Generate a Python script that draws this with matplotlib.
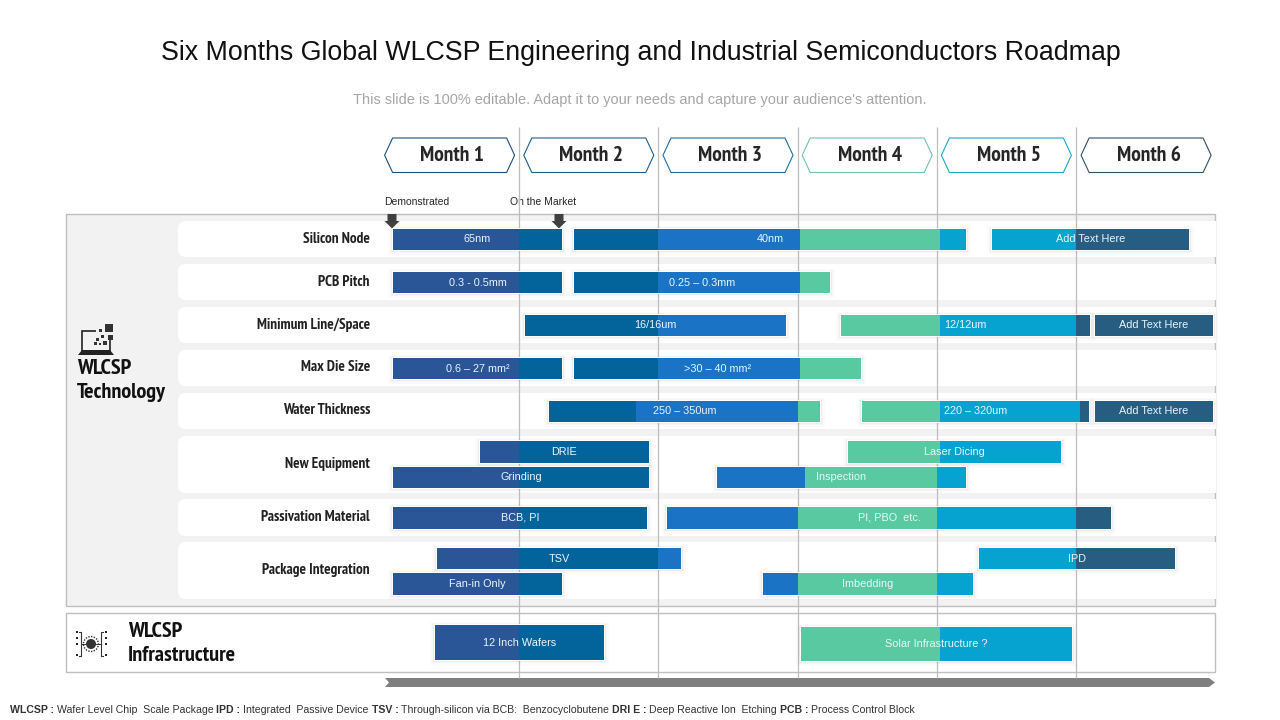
import matplotlib
matplotlib.use("Agg")
import matplotlib.pyplot as plt
from matplotlib.patches import FancyBboxPatch, Polygon, Rectangle, Circle
from matplotlib import font_manager as fm

# ---------- data ----------
TITLE = "Six Months Global WLCSP Engineering and Industrial Semiconductors Roadmap"
SUBTITLE = "This slide is 100% editable. Adapt it to your needs and capture your audience's attention."
months = ["Month 1", "Month 2", "Month 3", "Month 4", "Month 5", "Month 6"]
row_names = ["Silicon Node", "PCB Pitch", "Minimum Line/Space", "Max Die Size", "Water Thickness",
             "New Equipment", "Passivation Material", "Package Integration"]
bar_labels = ["65nm", "40nm", "Add Text Here",
              "0.3 - 0.5mm", "0.25 – 0.3mm",
              "16/16um", "12/12um", "Add Text Here",
              "0.6 – 27 mm²", ">30 – 40 mm²",
              "250 – 350um", "220 – 320um", "Add Text Here",
              "DRIE", "Laser Dicing", "Grinding", "Inspection",
              "BCB, PI", "PI, PBO  etc.",
              "TSV", "IPD", "Fan-in Only", "Imbedding",
              "12 Inch Wafers", "Solar Infrastructure ?"]
# start / end in months from the start of Month 1
bar_starts = [0.093, 1.394, 4.397, 0.093, 1.394, 1.042, 3.312, 5.136, 0.093, 1.394, 1.214, 3.463, 5.136,
              0.718, 3.362, 0.093, 2.421, 0.093, 2.062, 0.409, 4.303, 0.093, 2.751, 0.395, 3.024]
bar_ends = [1.307, 4.210, 5.810, 1.307, 3.233, 2.917, 5.100, 5.984, 1.307, 3.455, 3.161, 5.093, 5.984,
            1.932, 4.892, 1.932, 4.210, 1.918, 5.251, 2.162, 5.711, 1.307, 4.260, 1.609, 4.971]
bar_tracks = [0, 0, 0, 1, 1, 2, 2, 2, 3, 3, 4, 4, 4, 5, 5, 6, 6, 7, 7, 8, 8, 9, 9, 10, 10]
month_breaks = [1.0, 2.0, 3.02, 4.02, 5.0]
shifted_breaks = {10: [1.0, 1.84, 3.0, 4.02, 5.0], 11: [1.0, 2.0, 3.02, 4.02, 5.03],
                  16: [1.0, 2.0, 3.05, 4.0, 5.0], 18: [1.0, 2.0, 3.0, 4.0, 5.0],
                  22: [1.0, 2.0, 3.0, 4.0, 5.0]}
month_colors = ["#2A5596", "#03639B", "#1A73C4", "#58C9A0", "#06A3D0", "#275D80"]
header_edges = ["#1F4E79", "#1F5F8B", "#1F6F9B", "#6FC4B0", "#22A5C8", "#2F4F63"]
legend_parts = [("WLCSP : ", True), ("Wafer Level Chip  Scale Package ", False),
                ("IPD : ", True), ("Integrated  Passive Device ", False),
                ("TSV : ", True), ("Through-silicon via BCB:  Benzocyclobutene ", False),
                ("DRI E : ", True), ("Deep Reactive Ion  Etching ", False),
                ("PCB : ", True), ("Process Control Block", False)]

# ---------- layout (page pixels) ----------
PX_X0, PX_MONTH = 380.0, 139.2
row_boxes = [(221, 257), (264, 300), (307, 343), (350, 386), (393, 429), (436, 493), (499, 536), (542, 599)]
row_label_y = [238, 281, 324, 366, 409, 463, 516, 569]
track_boxes = [(229, 250), (272, 293), (315, 336), (358, 379), (401, 422), (441, 463), (467, 488),
               (507, 529), (548, 569), (573, 595), (627, 661)]
names = {f.name for f in fm.fontManager.ttflist}
NARROW = [n for n in ["PT Sans Narrow", "IBM Plex Sans Condensed", "Barlow Condensed"] if n in names] + ["Liberation Sans"]
NARROW = NARROW[:1] + ["Liberation Sans"]
SANS = ["Liberation Sans", "DejaVu Sans"]
GRID = "#BDBDBD"

fig = plt.figure(figsize=(12.8, 7.2), dpi=100, facecolor="white")
page = fig.add_axes([0, 0, 1, 1])
page.set_xlim(0, 1280)
page.set_ylim(720, 0)
page.axis("off")
gantt = fig.add_axes([0, 0, 1, 1], facecolor="none")
gantt.set_xlim(-PX_X0 / PX_MONTH, (1280 - PX_X0) / PX_MONTH)
gantt.set_ylim(720, 0)
gantt.axis("off")

# ---------- titles ----------
page.text(640.5, 53, TITLE, ha="center", va="center", fontsize=19.3, family=SANS, color="#111111")
page.text(639.5, 100, SUBTITLE, ha="center", va="center", fontsize=10.45, family=SANS, color="#A6A6A6")

# ---------- panels ----------
page.add_patch(Rectangle((66, 214), 1149, 392, fc="#F2F2F2", ec="#BFBFBF", lw=1, zorder=1))
page.add_patch(Rectangle((66, 613), 1149, 59, fc="white", ec="#BFBFBF", lw=1, zorder=1))
clip = Rectangle((0, 0), 1216, 720, transform=page.transData)
for (top, bottom), name, ly in zip(row_boxes, row_names, row_label_y):
    box = FancyBboxPatch((186, top + 8), 1040, bottom - top - 16, boxstyle="round,pad=8,rounding_size=8",
                         fc="white", ec="white", lw=0, zorder=2)
    page.add_patch(box)
    box.set_clip_path(clip)
    page.text(370, ly + 1, name, ha="right", va="center", fontsize=10.9, family=NARROW,
              fontweight="bold", color="#222222", zorder=6)

# ---------- month gridlines and headers ----------
for m in range(1, 6):
    gantt.plot([m, m], [127, 678], color=GRID, lw=0.9, zorder=1, solid_capstyle="butt")
for i, (label, col) in enumerate(zip(months, header_edges)):
    cx = PX_X0 + (i + 0.5) * PX_MONTH
    if i == 5:
        cx += 0.5
    l, r, t, b = cx - 65, cx + 65, 138, 172.5
    page.add_patch(Polygon([(l, (t + b) / 2), (l + 8, t), (r - 8, t), (r, (t + b) / 2), (r - 8, b), (l + 8, b)],
                           closed=True, fc="white", ec=col, lw=0.8, zorder=3))
    page.text(cx + 2.5, 155.5, label, ha="center", va="center", fontsize=15.5, family=NARROW,
              fontweight="bold", color="#262626", zorder=4)

# ---------- milestone arrows ----------
for x, txt, tx in [(392, "Demonstrated", 384), (559, "On the Market", 510)]:
    page.text(tx, 202, txt, ha="left", va="center", fontsize=7.5, family=SANS, color="#262626", zorder=6)
    page.add_patch(Polygon([(x - 4.5, 214), (x + 4.5, 214), (x + 4.5, 221), (x + 7.5, 221), (x, 228.5),
                            (x - 7.5, 221), (x - 4.5, 221)], closed=True, fc="#404040", ec="none", zorder=8))

# ---------- bars ----------
for idx, (label, s, e, tr) in enumerate(zip(bar_labels, bar_starts, bar_ends, bar_tracks)):
    top, bottom = track_boxes[tr]
    if label == "12 Inch Wafers":
        top, bottom = 625, 660
    h = bottom - top
    yc = (top + bottom) / 2
    for grow, alpha in [(5, 0.025), (3, 0.04), (2, 0.06)]:
        pad = grow / PX_MONTH
        gantt.barh(yc + 0.5, (e - s) + 2 * pad, left=s - pad, height=h + grow * 1.6, color="#6F7F8F", alpha=alpha,
                   lw=0, zorder=3)
    gantt.barh(yc, e - s + 2 / PX_MONTH, left=s - 1 / PX_MONTH, height=h + 2, color="white", lw=0, zorder=3.5)
    brks = shifted_breaks.get(idx, month_breaks)
    edges = [0.0] + brks + [6.2]
    for k in range(6):
        a, b = max(s, edges[k]), min(e, edges[k + 1])
        if b > a:
            gantt.barh(yc, b - a, left=a, height=h, color=month_colors[k], lw=0, zorder=4)
    gantt.text((s + e) / 2, yc, label, ha="center", va="center", fontsize=7.8, family=SANS, color="#EAF6FB", zorder=7)

# ---------- timeline arrow ----------
page.add_patch(Polygon([(385, 678), (1209, 678), (1215, 682.5), (1209, 687), (385, 687), (389, 682.5)],
                       closed=True, fc="#7F7F7F", ec="none", zorder=5))

# ---------- group labels ----------
for x, y, txt in [(77, 369, "WLCSP"), (77, 392.5, "Technology"), (128, 631.5, "WLCSP"), (128, 655.5, "Infrastructure")]:
    page.text(x, y, txt, ha="left", va="center", fontsize=16, family=NARROW, fontweight="bold",
              color="#111111", zorder=6)

# laptop icon
ic = "#222222"
page.add_patch(Rectangle((82, 331), 28, 20, fc="none", ec=ic, lw=1.2, zorder=6))
page.add_patch(Rectangle((96, 321), 24, 14, fc="#F2F2F2", ec="none", zorder=6))
page.add_patch(Polygon([(78, 355), (82, 350), (110, 350), (114, 355)], closed=True, fc=ic, ec="none", zorder=7))
for x, y, s in [(105, 324, 8), (108, 335, 5), (99, 329, 3), (101, 335, 3), (96, 338, 2.5), (103, 341, 4),
                (94, 342, 2.5), (99, 343, 2), (110, 329, 3)]:
    page.add_patch(Rectangle((x, y), s, s, fc="#333333", ec="none", zorder=7))

# gear icon
page.add_patch(Circle((91, 644), 5, fc="#333333", ec="none", zorder=7))
page.add_patch(Circle((91, 644), 7.5, fc="none", ec="#333333", lw=1, ls=(0, (1, 1)), zorder=7))
for xs in [(79, 81, 81, 79), (103, 101, 101, 103)]:
    page.plot(xs, [632, 632, 656, 656], color="#333333", lw=0.8, zorder=7)
for x in (76, 105):
    for y in (632, 638, 644, 655):
        page.add_patch(Rectangle((x, y - 1), 2, 2, fc="#222222", ec="none", zorder=7))
page.plot([82, 100], [644, 644], color="#333333", lw=0.7, zorder=6)

# ---------- footnote ----------
fig.canvas.draw()
rend = fig.canvas.get_renderer()
x = 10.0
FS = 7.6
for txt, bold in legend_parts:
    w = "bold" if bold else "normal"
    page.text(x, 710, txt, ha="left", va="center", fontsize=FS, family=SANS, fontweight=w, color="#333333", zorder=6)
    a = page.text(0, 0, txt + "|", fontsize=FS, family=SANS, fontweight=w)
    b = page.text(0, 0, "|", fontsize=FS, family=SANS, fontweight=w)
    x += a.get_window_extent(rend).width - b.get_window_extent(rend).width
    a.remove()
    b.remove()

fig.savefig("out.png", dpi=100, facecolor="white")
